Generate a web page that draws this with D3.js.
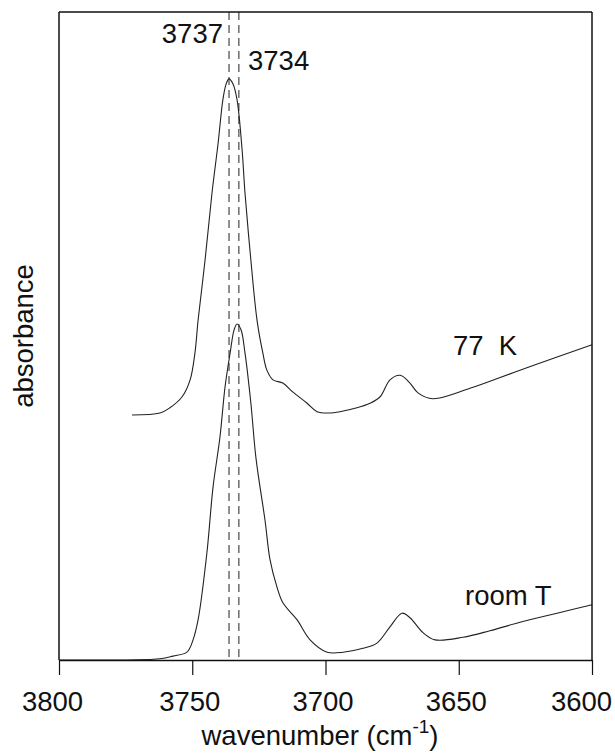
<!DOCTYPE html>
<html lang="en">
<head>
<meta charset="utf-8">
<title>IR absorbance, 77 K and room T</title>
<script src="https://cdn.jsdelivr.net/npm/d3@7/dist/d3.min.js"></script>
<style>
  body { margin: 0; background: #fff; }
  svg { display: block; font-family: "Liberation Sans", Arial, sans-serif; }
  .curve { fill: none; stroke: #222; stroke-width: 1.1; }
  .marker { stroke: #222; stroke-width: 1; stroke-dasharray: 8,5; }
  .frame { stroke: #111; stroke-width: 1.5; }
</style>
</head>
<body>
<script>
  var w = 615;
  var h = 754;

  // 77 K spectrum
  var wn77  = [3772.6, 3762.1, 3758.4, 3753.8, 3750.8, 3749.0, 3747.8, 3745.2, 3742.6, 3740.3,
               3738.5, 3737.3, 3736.2, 3734.7, 3733.2, 3731.3, 3730.2, 3728.0, 3725.7, 3723.5,
               3722.0, 3719.7, 3716.0, 3712.2, 3706.9, 3703.2, 3698.3, 3694.6, 3688.2, 3683.3,
               3679.5, 3675.8, 3672.0, 3668.3, 3665.3, 3659.7, 3645.8, 3629.6, 3613.1, 3600.0];
  var abs77 = [0.377, 0.380, 0.388, 0.405, 0.431, 0.472, 0.523, 0.615, 0.718, 0.795,
               0.862, 0.886, 0.894, 0.886, 0.862, 0.785, 0.718, 0.615, 0.523, 0.472,
               0.446, 0.431, 0.426, 0.412, 0.395, 0.382, 0.380, 0.382, 0.388, 0.395,
               0.405, 0.431, 0.438, 0.426, 0.411, 0.402, 0.418, 0.442, 0.466, 0.485];

  // room temperature spectrum
  var wnRoom  = [3800.0, 3762.1, 3757.2, 3752.0, 3749.7, 3747.8, 3744.5, 3742.2, 3739.6, 3737.7,
                 3735.8, 3734.3, 3733.2, 3731.7, 3730.2, 3728.0, 3726.1, 3722.7, 3720.8, 3718.2,
                 3716.0, 3710.7, 3705.8, 3699.4, 3693.4, 3685.9, 3680.7, 3675.8, 3671.3, 3668.3,
                 3663.4, 3658.9, 3648.4, 3638.3, 3627.0, 3613.1, 3600.0];
  var absRoom = [0.000, 0.002, 0.006, 0.012, 0.031, 0.062, 0.165, 0.266, 0.343, 0.420,
                 0.472, 0.508, 0.517, 0.508, 0.472, 0.395, 0.311, 0.215, 0.154, 0.112,
                 0.088, 0.062, 0.031, 0.012, 0.012, 0.018, 0.026, 0.051, 0.072, 0.065,
                 0.042, 0.031, 0.035, 0.045, 0.058, 0.072, 0.085];

  var tickValues = [3800, 3750, 3700, 3650, 3600];
  var markerPos = [3736.2, 3732.5];       // where the dashed lines are drawn
  var markerText = ["3737", "3734"];

  var pLeft = 59, pRight = 592, pTop = 12, pBottom = 660;

  var x = d3.scaleLinear().domain([3800, 3600]).range([pLeft, pRight]);
  var y = d3.scaleLinear().domain([0, 1]).range([pBottom, pTop - 2]);

  var svg = d3.select("body")
              .append("svg")
              .attr("width", w)
              .attr("height", h);

  svg.append("rect")
     .attr("width", w)
     .attr("height", h)
     .attr("fill", "white");

  var line = d3.line()
               .x(function(d) { return x(d[0]); })
               .y(function(d) { return y(d[1]); })
               .curve(d3.curveCatmullRom.alpha(0.5));

  // dashed peak markers
  svg.selectAll("line.marker")
     .data(markerPos)
     .enter()
     .append("line")
     .attr("class", "marker")
     .attr("x1", function(d) { return x(d); })
     .attr("x2", function(d) { return x(d); })
     .attr("y1", pTop)
     .attr("y2", pBottom);

  svg.append("path")
     .attr("class", "curve")
     .attr("d", line(d3.zip(wn77, abs77)));

  svg.append("path")
     .attr("class", "curve")
     .attr("d", line(d3.zip(wnRoom, absRoom)));

  // frame: top, left, right
  svg.append("line").attr("class", "frame")
     .attr("x1", pLeft).attr("x2", pRight).attr("y1", pTop).attr("y2", pTop)
     .attr("stroke-width", 1);
  svg.append("line").attr("class", "frame")
     .attr("x1", pLeft).attr("x2", pLeft).attr("y1", pTop).attr("y2", pBottom);
  svg.append("line").attr("class", "frame")
     .attr("x1", pRight).attr("x2", pRight).attr("y1", pTop).attr("y2", pBottom);

  // bottom axis
  var xAxis = d3.axisBottom(x)
                .tickValues(tickValues)
                .tickSize(15)
                .tickSizeOuter(0)
                .tickPadding(16)
                .tickFormat(d3.format("d"));

  var gx = svg.append("g")
              .attr("transform", "translate(0," + pBottom + ")")
              .call(xAxis);
  gx.select(".domain").attr("stroke", "#111").attr("stroke-width", 1.5);
  gx.selectAll(".tick line").attr("stroke", "#111").attr("stroke-width", 1.2);
  gx.selectAll(".tick text")
    .attr("font-size", 27.5)
    .attr("font-family", "Liberation Sans, Arial, sans-serif")
    .attr("fill", "#111")
    .attr("dx", function(d, i) { return i === tickValues.length - 1 ? -11 : (i === 0 ? -7 : -3); });

  // axis titles
  var xt = svg.append("text")
              .attr("x", 320)
              .attr("y", 745)
              .attr("text-anchor", "middle")
              .attr("font-size", 27.5)
              .attr("fill", "#111");
  xt.append("tspan").text("wavenumber (cm");
  xt.append("tspan").attr("font-size", 19).attr("dy", -12).text("-1");
  xt.append("tspan").attr("dy", 12).text(")");

  svg.append("text")
     .attr("transform", "translate(33,336) rotate(-90)")
     .attr("text-anchor", "middle")
     .attr("font-size", 27.5)
     .attr("fill", "#111")
     .text("absorbance");

  // peak labels
  svg.append("text")
     .attr("x", 223).attr("y", 43)
     .attr("text-anchor", "end")
     .attr("font-size", 27.5)
     .attr("fill", "#111")
     .text(markerText[0]);
  svg.append("text")
     .attr("x", 248).attr("y", 70)
     .attr("font-size", 27.5)
     .attr("fill", "#111")
     .text(markerText[1]);

  // series labels
  svg.append("text")
     .attr("x", 453).attr("y", 355)
     .attr("font-size", 27.5)
     .attr("fill", "#111")
     .attr("xml:space", "preserve")
     .style("white-space", "pre")
     .text("77  K");

  svg.append("text")
     .attr("x", 465).attr("y", 605)
     .attr("font-size", 27.5)
     .attr("fill", "#111")
     .text("room T");
</script>
</body>
</html>
